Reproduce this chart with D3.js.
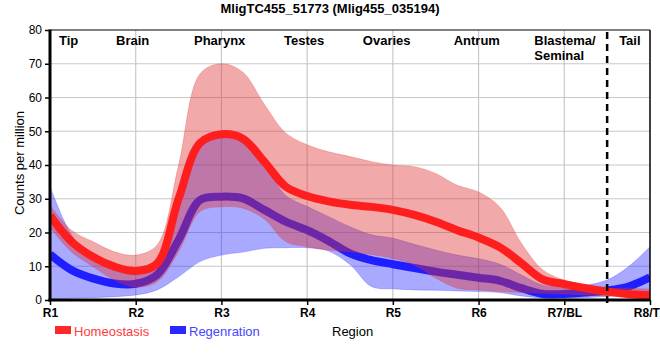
<!DOCTYPE html>
<html><head><meta charset="utf-8">
<script src="https://cdn.jsdelivr.net/npm/d3@7"></script>
<style>body{margin:0;background:#fff}svg{display:block;font-family:"Liberation Sans",Arial,sans-serif}</style>
</head><body><svg id="c" width="660" height="360"></svg>
<script>
// ---- data ----
const regions = ["R1","R2","R3","R4","R5","R6","R7/BL","R8/TL"];
const tissues = ["Tip","Brain","Pharynx","Testes","Ovaries","Antrum","Blastema/\nSeminal","Tail"];
const samplePos = [0,0.25,0.5,0.75,1,1.25,1.5,1.75,2,2.25,2.5,2.75,3,3.25,3.5,3.75,4,4.25,4.5,4.75,5,5.25,5.5,5.75,6,6.25,6.5,6.75,7];
const homMean = [25,17.3,12.8,9.9,8.6,10.8,30,46.5,49.1,47.8,41,33.6,30.8,29.2,28.2,27.6,26.7,25.2,23.2,20.7,18.5,15.6,10.9,6.1,4.7,3.5,2.5,1.7,1.4];
const homHi   = [28.1,20.7,17.3,14.3,13.3,16.3,40,67,70,67.5,58,49.5,46,43.9,42.5,41,40,39.5,37.5,34,32,27.5,16.8,8.9,5.9,4.4,3.5,3.5,3.2];
const homLo   = [21.5,14.3,9.9,5.9,3.8,5.4,14.3,26.2,27.6,27.2,24,17.3,15.8,14.8,14.3,13.5,12.3,10.4,6.5,3.5,3,2.5,2.2,2,1.8,1.5,1.2,1,1];
const regMean = [13.5,8.9,6.4,4.9,4.8,7.5,17.8,29.6,30.6,30.1,26.7,23.2,20.7,17.5,13.8,11.8,10.6,9.5,8.4,7.5,6.6,5.7,3.5,1.8,1.8,2.2,2.8,4,6.7];
const regHi   = [33.6,19.3,12.3,9.5,8.2,10.3,29.5,46,48,47,40,31,27.7,24.7,21.7,19.3,18.3,16.5,14.8,13.3,12.2,10.6,7.4,4.4,4,4.4,5.9,9.9,15.8];
const regLo   = [0.3,0.5,0.7,1,1.5,3,6.9,11.4,13.3,14.2,15.3,15.5,15.5,14.5,10.5,4,3.3,3,2.9,2.7,2.5,2.2,1.2,0.6,0.5,0.7,1.1,1.5,1.8];
const yTicks = [0,10,20,30,40,50,60,70,80];
const seriesNames = ["Homeostasis","Regenration"];

// ---- layout ----
const L=50,R=650,T=30,B=300;
const tissuePos = [0.105,0.77,1.68,2.73,3.65,4.71,5.65,6.64];
const divider = 6.5;

const svg = d3.select("#c");
const x = d3.scaleLinear().domain([0,7]).range([L,R]);
const y = d3.scaleLinear().domain([0,80]).range([B,T]);

// grid
const g = svg.append("g");
g.selectAll(".gy").data(yTicks.filter(d=>d>0&&d<80)).join("line")
  .attr("x1",L).attr("x2",R).attr("y1",d=>y(d)).attr("y2",d=>y(d))
  .attr("stroke","#c8c8c8").attr("stroke-width",1.2);
g.selectAll(".gx").data(d3.range(1,7)).join("line")
  .attr("x1",d=>x(d)).attr("x2",d=>x(d)).attr("y1",T).attr("y2",B)
  .attr("stroke","#c8c8c8").attr("stroke-width",1.2);

svg.append("clipPath").attr("id","clip").append("rect").attr("x",L).attr("y",T).attr("width",R-L).attr("height",B-T);
const plot = svg.append("g").attr("clip-path","url(#clip)");

const curve = d3.curveCatmullRom.alpha(0.5);
const area = (lo,hi)=>d3.area().x((d,i)=>x(samplePos[i])).y0((d,i)=>y(lo[i])).y1((d,i)=>y(hi[i])).curve(curve)(samplePos);
const line = (m)=>d3.line().x((d,i)=>x(samplePos[i])).y((d,i)=>y(m[i])).curve(curve)(samplePos);

plot.append("path").attr("d",area(regLo,regHi)).attr("fill","rgb(40,40,255)").attr("fill-opacity",0.4)
  .attr("stroke","rgb(40,40,255)").attr("stroke-opacity",0.25).attr("stroke-width",1);
plot.append("path").attr("d",line(regMean)).attr("fill","none").attr("stroke","rgb(30,30,255)").attr("stroke-width",8).attr("stroke-linejoin","round");
plot.append("path").attr("d",area(homLo,homHi)).attr("fill","rgb(222,50,50)").attr("fill-opacity",0.42)
  .attr("stroke","rgb(222,50,50)").attr("stroke-opacity",0.25).attr("stroke-width",1);
plot.append("path").attr("d",line(homMean)).attr("fill","none").attr("stroke","rgb(255,30,30)").attr("stroke-width",8).attr("stroke-linejoin","round");

// borders
svg.append("line").attr("x1",L).attr("x2",R).attr("y1",T).attr("y2",T).attr("stroke","#000").attr("stroke-width",1.2);
svg.append("line").attr("x1",R).attr("x2",R).attr("y1",T).attr("y2",B).attr("stroke","#000").attr("stroke-width",1.5);

// axes
const ya = svg.append("g").attr("transform",`translate(${L},0)`)
  .call(d3.axisLeft(y).tickValues(yTicks).tickSize(5).tickPadding(3));
ya.select(".domain").remove();
ya.selectAll("text").attr("font-size",12).attr("fill","#000").attr("font-family","Liberation Sans, Arial, sans-serif");
ya.selectAll(".tick line").attr("stroke","#000").attr("stroke-width",1.5);
const xa = svg.append("g").attr("transform",`translate(0,${B})`)
  .call(d3.axisBottom(x).tickValues(d3.range(8)).tickFormat(i=>regions[i]).tickSize(5).tickPadding(3));
xa.select(".domain").remove();
xa.selectAll("text").attr("font-size",12).attr("font-weight","bold").attr("fill","#000").attr("font-family","Liberation Sans, Arial, sans-serif");
xa.selectAll(".tick line").attr("stroke","#000").attr("stroke-width",1.5);
svg.append("line").attr("x1",L).attr("x2",L).attr("y1",T-0.5).attr("y2",B+1.5).attr("stroke","#000").attr("stroke-width",3);
svg.append("line").attr("x1",L-1.5).attr("x2",R).attr("y1",B).attr("y2",B).attr("stroke","#000").attr("stroke-width",3);

// divider
svg.append("line").attr("x1",x(divider)).attr("x2",x(divider)).attr("y1",T+2).attr("y2",B+6)
  .attr("stroke","#000").attr("stroke-width",2.5).attr("stroke-dasharray","7,5");

// tissue labels
tissues.forEach((t,i)=>{
  const tx = svg.append("text").attr("x",x(tissuePos[i])).attr("y",45)
    .attr("font-size",13).attr("font-weight","bold").attr("fill","#000");
  t.split("\n").forEach((s,j)=>tx.append("tspan").attr("x",x(tissuePos[i])).attr("dy",j?15:0).text(s));
});

// title
svg.append("text").attr("x",330).attr("y",13).attr("text-anchor","middle").attr("font-size",13).attr("font-weight","bold").text("MligTC455_51773 (Mlig455_035194)");
// axis titles
svg.append("text").attr("transform","translate(24,163) rotate(-90)").attr("text-anchor","middle").attr("font-size",13).text("Counts per million");
svg.append("text").attr("x",332).attr("y",336).attr("font-size",13).text("Region");

// legend
const leg = [{n:seriesNames[0],c:"rgb(255,40,40)",t:"rgb(255,60,60)",x:55},{n:seriesNames[1],c:"rgb(40,40,255)",t:"rgb(70,70,255)",x:170}];
leg.forEach(d=>{
  svg.append("rect").attr("x",d.x).attr("y",326).attr("width",16).attr("height",8).attr("fill",d.c);
  svg.append("text").attr("x",d.x+19).attr("y",336).attr("font-size",13).attr("fill",d.t).text(d.n);
});
</script></body></html>
